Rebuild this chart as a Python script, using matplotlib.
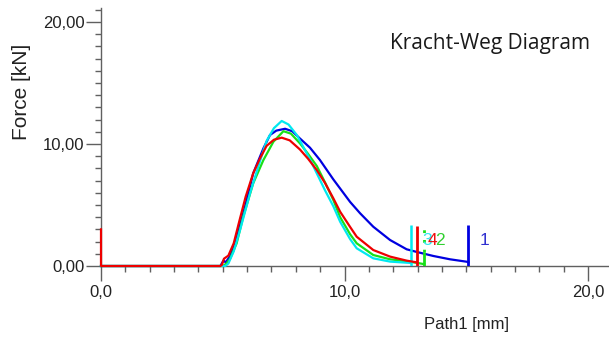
import matplotlib
matplotlib.use("Agg")
import matplotlib.pyplot as plt
from matplotlib.ticker import MultipleLocator, FuncFormatter

# ---- data ----
blue_x = [0, 4.90, 5.03, 5.12, 5.30, 5.57, 5.91, 6.25, 6.67, 6.94, 7.20, 7.56, 7.85, 8.17,
          8.58, 8.99, 9.54, 10.23, 10.64, 11.18, 11.87, 12.55, 12.97, 13.65, 14.33, 15.02, 15.09]
blue_y = [0, 0, 0.45, 0.30, 0.80, 2.40, 4.86, 7.60, 9.65, 10.74, 11.10, 11.25, 11.05, 10.45,
          9.70, 8.69, 7.10, 5.25, 4.32, 3.22, 2.13, 1.37, 1.15, 0.82, 0.55, 0.35, 0.30]

green_x = [0, 5.00, 5.15, 5.30, 5.57, 5.84, 6.25, 6.67, 7.08, 7.49, 7.80, 8.17, 8.50, 8.86,
           9.20, 9.54, 9.82, 10.23, 10.50, 11.18, 11.87, 12.55, 13.00, 13.27]
green_y = [0, 0, 0.20, 0.60, 1.86, 4.04, 6.78, 8.69, 10.19, 11.05, 10.85, 10.05, 9.20, 8.20,
           6.85, 5.41, 4.00, 2.60, 1.86, 0.90, 0.55, 0.38, 0.25, 0.15]

cyan_x = [0, 5.10, 5.23, 5.45, 5.71, 6.12, 6.53, 6.80, 7.10, 7.42, 7.70, 8.04, 8.31, 8.58,
          8.86, 9.20, 9.54, 9.82, 10.23, 10.50, 11.18, 11.87, 12.55, 12.73]
cyan_y = [0, 0, 0.20, 1.20, 2.95, 5.96, 8.60, 10.25, 11.30, 11.89, 11.60, 10.74, 9.75, 8.75,
          7.60, 6.20, 4.90, 3.63, 2.20, 1.45, 0.63, 0.36, 0.27, 0.25]

red_x = [0, 0, 4.90, 4.96, 5.05, 5.23, 5.45, 5.67, 5.94, 6.25, 6.53, 6.80, 7.10, 7.42, 7.75,
         8.17, 8.50, 8.86, 9.20, 9.54, 9.82, 10.23, 10.50, 11.18, 11.87, 12.55, 12.96]
red_y = [3.00, 0, 0, 0.08, 0.60, 0.85, 1.86, 3.60, 5.68, 7.60, 8.83, 9.85, 10.35, 10.52, 10.30,
         9.55, 8.80, 7.87, 6.80, 5.55, 4.45, 3.20, 2.40, 1.31, 0.77, 0.44, 0.30]

# end-of-test markers: height of the vertical bar for each specimen
end_height = {"1": 3.36, "2": 3.30, "3": 3.36, "4": 3.30}
green_solid_end = 1.15

x_ticks_major = [0, 10, 20]
y_ticks_major = [0, 10, 20]

colors = {"1": "#0000e0", "2": "#18e018", "3": "#00e8f0", "4": "#ee0000"}
label_colors = {"1": "#3030d0", "2": "#30d030", "3": "#30e8f0", "4": "#ee1010"}

fig = plt.figure(figsize=(6.09, 3.40), dpi=100)
W, H = 609, 340
ax = fig.add_axes([101 / W, 74 / H, 508 / W, 258 / H])
ax.set_xlim(0, 20.86)
ax.set_ylim(0, 21.15)

axis_col = "#606060"
for s in ["top", "right"]:
    ax.spines[s].set_visible(False)
for s in ["left", "bottom"]:
    ax.spines[s].set_color(axis_col)
    ax.spines[s].set_linewidth(1.0)

lw = 1.6
ax.plot(blue_x, blue_y, color=colors["1"], lw=lw, clip_on=False, zorder=3)
ax.plot(green_x, green_y, color=colors["2"], lw=lw, clip_on=False, zorder=4)
ax.plot(cyan_x, cyan_y, color=colors["3"], lw=lw, clip_on=False, zorder=5)
ax.plot(red_x, red_y, color=colors["4"], lw=lw, clip_on=False, zorder=6)

# end bars
ax.vlines(blue_x[-1], 0, end_height["1"], color=colors["1"], lw=2.0, zorder=3)
ax.vlines(cyan_x[-1], 0, end_height["3"], color=colors["3"], lw=1.8, zorder=5)
ax.vlines(red_x[-1], 0, end_height["4"], color=colors["4"], lw=2.0, zorder=6)
ax.vlines(green_x[-1], 0, green_solid_end, color=colors["2"], lw=2.0, zorder=4)
ax.vlines(green_x[-1], green_solid_end, end_height["2"], color=colors["2"], lw=2.0,
          linestyles=(0, (1, 2.5)), zorder=4)

# specimen numbers
lab_font = dict(family="Liberation Sans", fontsize=12.5, va="center", ha="center")
off = 11.5
ax.annotate("3", (cyan_x[-1], 2.09), xytext=(off, 0), textcoords="offset points",
            color=label_colors["3"], zorder=7, **lab_font)
ax.annotate("4", (red_x[-1], 2.09), xytext=(off, 0), textcoords="offset points",
            color=label_colors["4"], zorder=8, **lab_font)
ax.annotate("2", (green_x[-1], 2.09), xytext=(off, 0), textcoords="offset points",
            color=label_colors["2"], zorder=8, **lab_font)
ax.annotate("1", (blue_x[-1], 2.09), xytext=(off, 0), textcoords="offset points",
            color=label_colors["1"], zorder=8, **lab_font)

# ticks
ax.xaxis.set_major_locator(plt.FixedLocator(x_ticks_major))
ax.xaxis.set_minor_locator(MultipleLocator(1))
ax.yaxis.set_major_locator(plt.FixedLocator(y_ticks_major))
ax.yaxis.set_minor_locator(MultipleLocator(1))
ax.xaxis.set_major_formatter(FuncFormatter(lambda v, p: f"{v:.1f}".replace(".", ",")))
ax.yaxis.set_major_formatter(FuncFormatter(lambda v, p: f"{v:.2f}".replace(".", ",")))
ax.tick_params(which="major", length=10.5, width=1.0, color=axis_col, direction="out",
               labelsize=12, labelcolor="#222222", pad=1.5)
ax.tick_params(which="minor", length=4.5, width=1.0, color=axis_col, direction="out")
ax.tick_params(axis="x", which="major", pad=3)
for t in ax.get_xticklabels() + ax.get_yticklabels():
    t.set_fontfamily("Liberation Sans")

fig.text(22 / W, 1 - 92 / H, "Force [kN]", rotation=90, ha="center", va="center",
         fontsize=15, family="Liberation Sans", color="#222222")
fig.text(467 / W, 1 - 324 / H, "Path1 [mm]", ha="center", va="center",
         fontsize=12, family="Liberation Sans", color="#222222")
fig.text(390 / W, 1 - 44 / H, "Kracht-Weg Diagram", ha="left", va="center",
         fontsize=15, family="Open Sans", color="#1a1a1a")

fig.savefig("out.png", dpi=100)
